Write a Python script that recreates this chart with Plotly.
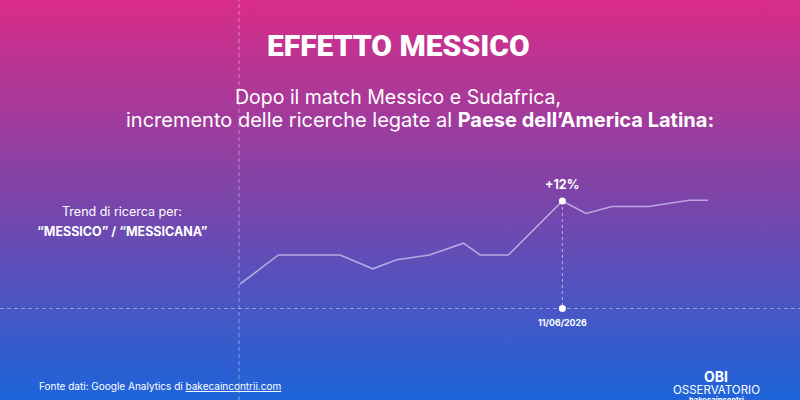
import base64
import plotly.graph_objects as go

# ---- data ----
giorno = [0, 1.6, 4.17, 5.53, 6.53, 7.89, 9.31, 10.0, 11.18, 13.43, 14.42, 15.49, 17.01, 18.72, 19.49]
indice = [100, 104.2, 104.2, 102.2, 103.5, 104.2, 105.9, 104.2, 104.2, 112.0, 110.2, 111.2, 111.2, 112.1, 112.1]
picco_idx = 9
picco_label = "+12%"
picco_data = "11/06/2026"
base_val = 96.46

W, H = 800, 400

svg = f'''<svg xmlns="http://www.w3.org/2000/svg" width="{W}" height="{H}" viewBox="0 0 {W} {H}" preserveAspectRatio="none">
<defs><linearGradient id="g" x1="0" y1="0" x2="0" y2="1">
<stop offset="0" stop-color="#d82c88"/>
<stop offset="0.5" stop-color="#7b45aa"/>
<stop offset="1" stop-color="#1e64da"/>
</linearGradient></defs>
<rect width="{W}" height="{H}" fill="url(#g)"/></svg>'''
src = "data:image/svg+xml;base64," + base64.b64encode(svg.encode()).decode()

fig = go.Figure()
fig.add_trace(go.Scatter(
    x=giorno, y=indice, mode="lines",
    line=dict(color="rgba(235,225,255,0.62)", width=1.6),
    hoverinfo="skip", showlegend=False))
fig.add_trace(go.Scatter(
    x=[giorno[picco_idx], giorno[picco_idx]], y=[indice[picco_idx], base_val],
    mode="lines+markers",
    line=dict(color="rgba(255,255,255,0.55)", width=1, dash="3px,3px"),
    marker=dict(color="white", size=7),
    hoverinfo="skip", showlegend=False))

dash_col = "rgba(255,255,255,0.4)"
fig.add_shape(type="line", xref="paper", yref="y", x0=0, x1=1, y0=base_val, y1=base_val,
              line=dict(color=dash_col, width=1, dash="4px,3px"), layer="below")
fig.add_shape(type="line", xref="x", yref="paper", x0=giorno[0] - 0.04, x1=giorno[0] - 0.04, y0=0, y1=1,
              line=dict(color=dash_col, width=1, dash="4px,3px"), layer="below")

ann = []
def t(x, y, text, size, family="Inter", color="white", xanchor="center", weight=None, **kw):
    f = dict(size=size, family=family, color=color)
    if weight:
        f["weight"] = weight
    ann.append(dict(x=x, y=y, xref="paper", yref="paper", text=text, showarrow=False,
                    font=f, xanchor=xanchor, yanchor="middle", **kw))

t(398 / W, 1 - 45 / H, "EFFETTO MESSICO", 30, family="Roboto", weight=900)
t(398 / W, 1 - 97 / H, "Dopo il match Messico e Sudafrica,", 19.5)
t(420 / W, 1 - 120 / H, "incremento delle ricerche legate al <b>Paese dell’America Latina:</b>", 20)
t(122 / W, 1 - 211.5 / H, "Trend di ricerca per:", 12.5)
t(122 / W, 1 - 231.5 / H, "<b>“MESSICO” / “MESSICANA”</b>", 12.5)
t(37 / W, 1 - 385.5 / H, "Fonte dati: Google Analytics di <u>bakecaincontrii.com</u>", 10, xanchor="left")
t(716 / W, 1 - 376 / H, "<b>OBI</b>", 14)
t(716 / W, 1 - 389.5 / H, "OSSERVATORIO", 11.5)
t(716 / W, 1 - 400 / H, "<b>bakecaincontri</b>", 7.5)

ann.append(dict(x=giorno[picco_idx], y=indice[picco_idx], xref="x", yref="y", text=f"<b>{picco_label}</b>",
                showarrow=False, yshift=16, font=dict(size=12.5, family="Inter", color="white")))
ann.append(dict(x=giorno[picco_idx], y=base_val, xref="x", yref="y", text=f"<b>{picco_data}</b>",
                showarrow=False, yshift=-14, font=dict(size=8.8, family="Inter", color="white")))

fig.update_layout(
    width=W, height=H,
    margin=dict(l=0, r=0, t=0, b=0),
    paper_bgcolor="#7b45aa", plot_bgcolor="rgba(0,0,0,0)",
    xaxis=dict(range=[-10, 23.33], visible=False, fixedrange=True),
    yaxis=dict(range=[83.24, 141.04], visible=False, fixedrange=True),
    images=[dict(source=src, xref="paper", yref="paper", x=0, y=1, sizex=1, sizey=1,
                 xanchor="left", yanchor="top", sizing="stretch", layer="below")],
    annotations=ann,
)
fig.write_html("out.html", config={"displayModeBar": False},
               post_script="document.body.style.margin='0';document.body.style.overflow='hidden';")
